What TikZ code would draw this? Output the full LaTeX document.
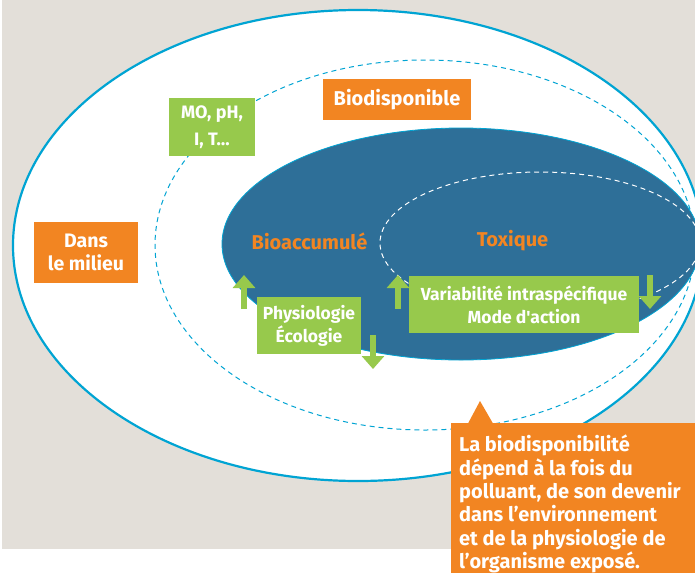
\documentclass[tikz,border=0pt]{standalone}
\usepackage{fontspec}
\setmainfont{Fira Sans}
\usetikzlibrary{arrows.meta}
\definecolor{bg}{RGB}{227,223,217}
\definecolor{cyanline}{RGB}{0,164,211}
\definecolor{darkblue}{RGB}{46,111,152}
\definecolor{orng}{RGB}{242,133,34}
\definecolor{grn}{RGB}{151,201,76}
\begin{document}
\begin{tikzpicture}[x=1pt,y=-1pt,
  lab/.style={font=\bfseries\fontsize{20}{22.5}\selectfont, text=white, align=center, inner sep=0pt},
  obox/.style={lab, fill=orng},
  gbox/.style={lab, fill=grn, font=\bfseries\fontsize{17.5}{22.7}\selectfont},
  inlab/.style={font=\bfseries\fontsize{20}{22}\selectfont, text=orng, inner sep=0pt},
  garrow/.style={draw=grn, line width=5.5pt, -{Triangle[width=22pt,length=13pt]}},
  dashline/.style={line width=1pt, dash pattern=on 5pt off 4pt}
]
\useasboundingbox (0,0) rectangle (695,573);
\fill[white] (0,0) rectangle (695,573);
\fill[bg] (2,0) rectangle (695,549);
\begin{scope}
\clip (0,0) rectangle (695,573);
\draw[cyanline, line width=2.2pt, fill=white] (358,245.5) ellipse [x radius=345pt, y radius=235.5pt];
\draw[cyanline, dashline] (425,245) ellipse [x radius=270pt, y radius=185pt];
\draw[cyanline, line width=0.8pt, fill=darkblue] (461,244) ellipse [x radius=239pt, y radius=116pt];
\draw[white, dashline] (540,243) ellipse [x radius=160pt, y radius=71pt];
\end{scope}
% labels inside
\node[inlab] (bioacc) at (309.5,241) {Bioaccumulé};
\node[inlab] (toxique) at (512.5,241) {Toxique};
% boxes
\node[obox, minimum width=148pt, minimum height=41pt] (biodisp) at (397,99.5) {Biodisponible};
\node[gbox, minimum width=86pt, minimum height=58pt, font=\bfseries\fontsize{18}{27}\selectfont] (mo) at (212,127) {MO, pH,\\I, T…};
\node[obox, minimum width=104pt, minimum height=61pt, font=\bfseries\fontsize{19.5}{22.5}\selectfont] (milieu) at (86,252.5) {Dans\\le milieu};
\node[gbox, minimum width=104pt, minimum height=57pt] (physio) at (309,325.5) {Physiologie\\Écologie};
\node[gbox, minimum width=230pt, minimum height=57pt] (varia) at (524,304.5) {Variabilité intraspécifique\\Mode d\textquotesingle action};
% arrows
\coordinate (a1s) at (244,309); \coordinate (a1e) at (244,275);
\coordinate (a2s) at (398,309); \coordinate (a2e) at (398,275);
\coordinate (a3s) at (373,335); \coordinate (a3e) at (373,369);
\coordinate (a4s) at (650,275); \coordinate (a4e) at (650,309);
\draw[garrow] (a1s) -- (a1e);
\draw[garrow] (a2s) -- (a2e);
\draw[garrow] (a3s) -- (a3e);
\draw[garrow] (a4s) -- (a4e);
% callout
\node[fill=orng, anchor=north west, minimum width=244pt, minimum height=150pt, inner sep=0pt] (callout) at (451,423) {};
\coordinate (tipL) at (468,423.5); \coordinate (tip) at (480,401); \coordinate (tipR) at (493,423.5);
\fill[orng] (tipL) -- (tip) -- (tipR) -- cycle;
\node[anchor=north west, inner sep=0pt, text=white, align=left, font=\bfseries\fontsize{20}{23.3}\selectfont] (callouttext) at (459,435) {La biodisponibilité\\dépend à la fois du\\polluant, de son devenir\\dans l’environnement\\et de la physiologie de\\l’organisme exposé.};
\end{tikzpicture}
\end{document}
